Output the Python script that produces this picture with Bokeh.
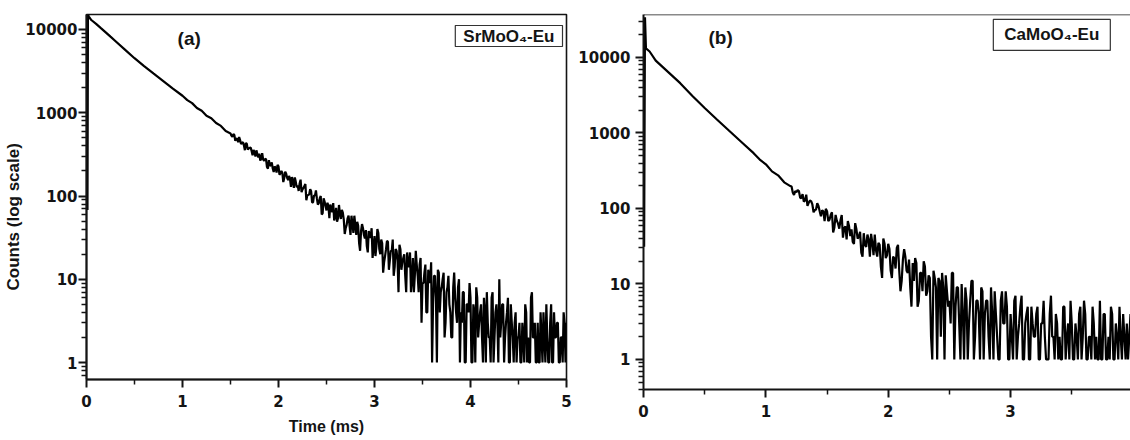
import numpy as np
from bokeh.plotting import figure
from bokeh.layouts import row, column
from bokeh.models import Range1d, FixedTicker, PrintfTickFormatter, Label, Span, Title
from bokeh.embed import file_html
from bokeh.resources import INLINE

# ---------------- panel (a): SrMoO4-Eu ----------------
t_a_head = [0.010, 0.015, 0.025, 0.05, 0.10, 0.15, 0.20, 0.25, 0.30, 0.40, 0.50,
            0.60, 0.70, 0.80, 0.90, 1.00, 1.05, 1.10, 1.15, 1.20, 1.25, 1.30,
            1.35, 1.40, 1.45]
counts_a_head = [68, 15000, 14300, 13000, 11700, 10400, 9250, 8200, 7280, 5730, 4520,
                 3630, 2950, 2400, 1950, 1600, 1420, 1305, 1140, 1055, 920, 860,
                 752, 695, 603]
# sampled every 0.01 ms from 1.50 ms to 5.00 ms
tail_a_start, tail_a_step = 1.50, 0.01
counts_a_tail = [
    565, 530, 512, 555, 540, 460, 487, 490, 442, 512,
    470, 420, 437, 442, 404, 355, 434, 423, 362, 373,
    379, 381, 348, 308, 357, 338, 297, 354, 317, 290,
    322, 267, 281, 327, 275, 265, 277, 280, 223, 213,
    269, 230, 235, 253, 214, 194, 226, 218, 191, 237,
    227, 180, 187, 200, 190, 147, 165, 196, 185, 165,
    155, 174, 161, 129, 169, 152, 125, 167, 148, 127,
    134, 115, 141, 157, 111, 120, 125, 132, 139, 89,
    102, 103, 105, 121, 114, 84, 84, 102, 101, 117,
    93, 79, 82, 94, 100, 60, 62, 94, 86, 76,
    67, 83, 76, 54, 79, 71, 64, 82, 51, 56,
    72, 49, 54, 78, 61, 53, 68, 63, 52, 35,
    41, 45, 54, 58, 44, 34, 58, 47, 36, 58,
    45, 34, 49, 44, 27, 22, 38, 46, 41, 34,
    31, 39, 25, 21, 38, 32, 32, 41, 18, 24,
    33, 19, 25, 40, 36, 23, 20, 30, 27, 12,
    16, 19, 23, 29, 28, 13, 17, 22, 22, 30,
    11, 14, 23, 22, 17, 7, 26, 23, 13, 16,
    18, 20, 11, 7, 21, 15, 14, 21, 7, 10,
    18, 7, 11, 22, 15, 11, 7, 15, 18, 3,
    9, 9, 12, 15, 4, 4, 13, 11, 9, 16,
    1, 5, 11, 11, 6, 1, 13, 12, 4, 7,
    8, 10, 12, 2, 3, 7, 8, 11, 5, 4,
    2, 2, 8, 12, 6, 4, 3, 8, 10, 1,
    4, 3, 7, 7, 1, 1, 5, 5, 4, 9,
    6, 1, 1, 5, 4, 1, 8, 6, 2, 3,
    4, 5, 2, 1, 6, 4, 1, 7, 3, 2,
    2, 1, 6, 7, 1, 2, 4, 5, 3, 1,
    10, 2, 3, 5, 5, 1, 2, 3, 4, 6,
    1, 1, 5, 3, 2, 1, 3, 4, 1, 2,
    2, 3, 1, 1, 3, 2, 1, 5, 4, 1,
    2, 1, 1, 6, 7, 2, 2, 3, 1, 1,
    3, 1, 1, 4, 2, 1, 4, 2, 1, 5,
    2, 1, 1, 3, 5, 1, 1, 4, 2, 2,
    3, 3, 1, 1, 2, 2, 1, 4, 3, 1,
    3]

# ---------------- panel (b): CaMoO4-Eu ----------------
t_b_head = [0.005, 0.012, 0.02, 0.05, 0.10, 0.20, 0.30, 0.40, 0.50, 0.60, 0.70,
            0.80, 0.90, 0.95, 1.00, 1.05, 1.10, 1.15]
counts_b_head = [31, 34000, 13200, 12000, 9100, 6450, 4570, 3090, 2140, 1510, 1070,
                 760, 540, 445, 385, 310, 275, 222]
# sampled every 0.01 ms from 1.20 ms to 3.98 ms
tail_b_start, tail_b_step = 1.20, 0.01
counts_b_tail = [
    198, 195, 163, 151, 170, 164, 175, 170, 139, 137,
    155, 123, 128, 152, 108, 119, 127, 125, 113, 89,
    95, 97, 117, 108, 92, 79, 95, 91, 68, 99,
    92, 68, 71, 82, 89, 48, 56, 82, 69, 63,
    54, 70, 82, 41, 55, 58, 39, 68, 58, 43,
    53, 36, 34, 64, 53, 40, 42, 49, 26, 23,
    47, 33, 31, 45, 39, 23, 46, 35, 24, 45,
    28, 23, 35, 33, 17, 12, 40, 34, 22, 24,
    34, 29, 15, 12, 23, 22, 16, 30, 33, 15,
    8, 11, 21, 29, 23, 15, 14, 21, 9, 5,
    19, 11, 22, 19, 5, 6, 14, 14, 8, 20,
    17, 7, 8, 13, 12, 2, 1, 15, 12, 9,
    1, 12, 11, 2, 14, 9, 1, 13, 8, 5,
    6, 3, 14, 14, 1, 5, 9, 9, 3, 1,
    10, 4, 1, 9, 6, 1, 3, 6, 11, 11,
    1, 2, 6, 6, 4, 1, 9, 8, 1, 4,
    6, 6, 2, 1, 9, 4, 1, 8, 4, 2,
    1, 1, 6, 8, 3, 3, 8, 5, 1, 1,
    4, 2, 1, 6, 7, 1, 2, 3, 5, 7,
    1, 1, 3, 4, 5, 1, 1, 5, 3, 2,
    2, 4, 5, 1, 1, 3, 3, 6, 2, 1,
    1, 1, 4, 7, 2, 2, 1, 4, 3, 1,
    2, 1, 1, 5, 5, 1, 2, 3, 1, 6,
    3, 1, 1, 3, 2, 1, 4, 5, 1, 2,
    6, 4, 1, 1, 2, 2, 1, 5, 3, 1,
    2, 1, 1, 6, 1, 1, 4, 4, 1, 1,
    2, 1, 5, 4, 1, 1, 3, 2, 1, 5,
    2, 1, 4, 2, 1, 3, 1, 2, 4]

# axis ticks
x_ticks_a = [0, 1, 2, 3, 4, 5]
x_minor_a = [0.5, 1.5, 2.5, 3.5, 4.5]
x_ticks_b = [0, 1, 2, 3]
x_minor_b = [0.5, 1.5, 2.5, 3.5]
y_ticks = [1, 10, 100, 1000, 10000]
y_minor_a = [0.7, 0.8, 0.9] + [m * 10 ** k for k in range(4) for m in range(2, 10)]
y_minor_b = [0.4, 0.5, 0.6, 0.7, 0.8, 0.9] + [m * 10 ** k for k in range(4) for m in range(2, 10)] + [20000, 30000]

t_a = list(t_a_head) + list(np.round(tail_a_start + tail_a_step * np.arange(len(counts_a_tail)), 3))
c_a = list(counts_a_head) + list(counts_a_tail)
t_b = list(t_b_head) + list(np.round(tail_b_start + tail_b_step * np.arange(len(counts_b_tail)), 3))
c_b = list(counts_b_head) + list(counts_b_tail)

INK = "#141414"


def style(p, xt, xm, ym, y_standoff):
    p.xaxis.ticker = FixedTicker(ticks=xt, minor_ticks=xm)
    p.yaxis.ticker = FixedTicker(ticks=y_ticks, minor_ticks=ym)
    p.yaxis.formatter = PrintfTickFormatter(format="%d")
    p.xgrid.visible = False
    p.ygrid.visible = False
    for ax in p.axis:
        ax.axis_line_width = 2
        ax.axis_line_color = INK
        ax.major_tick_line_color = INK
        ax.minor_tick_line_color = INK
        ax.major_tick_line_width = 2
        ax.minor_tick_line_width = 1.5
        ax.major_tick_out = 8
        ax.major_tick_in = 0
        ax.minor_tick_out = 5
        ax.minor_tick_in = 0
        ax.major_label_text_font = "DejaVu Sans"
        ax.major_label_text_font_style = "bold"
        ax.major_label_text_font_size = "15px"
        ax.major_label_text_color = INK
        ax.axis_label_text_font = "Liberation Sans"
        ax.axis_label_text_font_style = "bold"
        ax.axis_label_text_font_size = "16px"
        ax.axis_label_text_color = INK
    p.xaxis.major_label_standoff = 7
    p.yaxis.major_label_standoff = y_standoff


# ---- figure (a)
pa = figure(width=575, height=438, x_range=Range1d(0, 5), y_range=Range1d(0.625, 15140),
            y_axis_type="log", output_backend="svg", toolbar_location=None,
            min_border_left=86, min_border_right=9, min_border_top=14, min_border_bottom=59,
            outline_line_color=INK, outline_line_width=1.6, background_fill_color="white",
            border_fill_color="white")
pa.line(t_a, c_a, line_color="black", line_width=2.2)
style(pa, x_ticks_a, x_minor_a, y_minor_a, 1)
pa.xaxis.axis_label = "Time (ms)"
pa.xaxis.axis_label_standoff = 8
# y-axis title as a side title, starting a little above the bottom of the frame
pa.add_layout(Title(text="Counts (log scale)", align="left", offset=89, standoff=0,
                    text_font="Liberation Sans", text_font_style="bold",
                    text_font_size="17px", text_color=INK), "left")
pa.add_layout(Label(x=1.07, y=7900, text="(a)", text_align="center", text_baseline="middle",
                    text_font="Liberation Sans", text_font_style="bold", text_font_size="19px",
                    text_color=INK))
pa.add_layout(Label(x=4.40, y=8350, text="SrMoO\u2084-Eu", text_align="center",
                    text_baseline="middle", text_font="Liberation Sans", text_font_style="bold",
                    text_font_size="17px", text_color=INK, border_line_color="#333333",
                    border_line_width=1.2, background_fill_color="white", padding=(8, 1)))

# ---- figure (b)
pb = figure(width=555, height=438, x_range=Range1d(0, 3.98), y_range=Range1d(0.40, 37100),
            y_axis_type="log", output_backend="svg", toolbar_location=None,
            min_border_left=65, min_border_right=0, min_border_top=14, min_border_bottom=49,
            outline_line_color=None, background_fill_color="white", border_fill_color="white")
pb.line(t_b, c_b, line_color="black", line_width=2.2)
style(pb, x_ticks_b, x_minor_b, y_minor_b, 5)
pb.add_layout(Span(location=37100, dimension="width", line_color=INK, line_width=1.6))
pb.add_layout(Label(x=0.63, y=18400, text="(b)", text_align="center", text_baseline="middle",
                    text_font="Liberation Sans", text_font_style="bold", text_font_size="19px",
                    text_color=INK))
pb.add_layout(Label(x=3.337, y=19900, text="CaMoO\u2084-Eu", text_align="center",
                    text_baseline="middle", text_font="Liberation Sans", text_font_style="bold",
                    text_font_size="17px", text_color=INK, border_line_color="#333333",
                    border_line_width=1.2, background_fill_color="white", padding=(11, 6)))

# each panel in its own column so that the two frames keep their own heights
layout = row(column(pa), column(pb))
open("out.html", "w").write(file_html(layout, INLINE))
